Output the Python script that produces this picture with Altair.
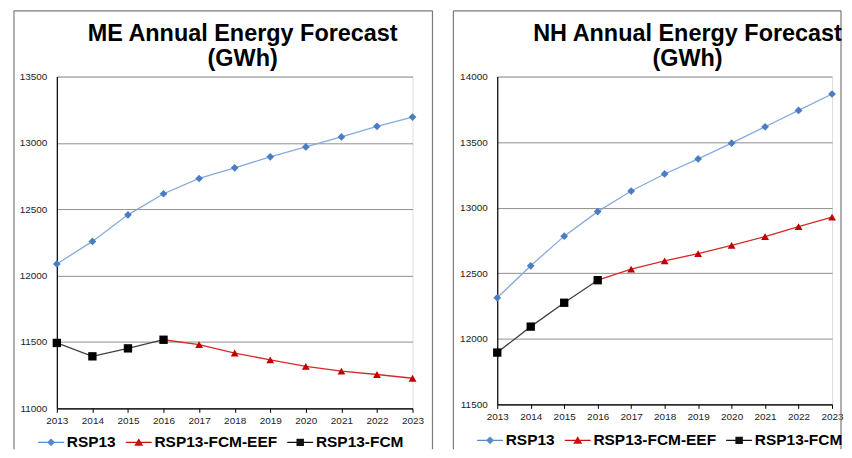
import altair as alt
import pandas as pd

years = [2013, 2014, 2015, 2016, 2017, 2018, 2019, 2020, 2021, 2022, 2023]
fcm_years = [2013, 2014, 2015, 2016]
eef_years = [2016, 2017, 2018, 2019, 2020, 2021, 2022, 2023]

series_names = ["RSP13", "RSP13-FCM-EEF", "RSP13-FCM"]

me_rsp13 = [12088, 12258, 12458, 12617, 12732, 12812, 12895, 12970, 13045, 13125, 13195]
me_fcm = [11493, 11392, 11452, 11517]
me_eef = [11517, 11480, 11417, 11365, 11317, 11280, 11255, 11227]

nh_rsp13 = [12313, 12557, 12783, 12970, 13127, 13257, 13372, 13492, 13617, 13742, 13867]
nh_fcm = [11895, 12093, 12275, 12447]
nh_eef = [12447, 12532, 12595, 12650, 12712, 12780, 12855, 12928]

me_ticks = [11000, 11500, 12000, 12500, 13000, 13500]
nh_ticks = [11500, 12000, 12500, 13000, 13500, 14000]

FONT = "Liberation Sans"
line_colors = ["#86AADD", "#D42A2A", "#404040"]
marker_colors = ["#4A7DC2", "#C00000", "#000000"]
legend_colors = ["#5A8AC8", "#C81010", "#111111"]
marker_shapes = ["diamond", "triangle-up", "square"]
marker_sizes = [60, 62, 70]

legend_paths = [
    "M-2.6,-0.13H2.6V0.13H-2.6Z M0,-0.8L0.8,0L0,0.8L-0.8,0Z",
    "M-2.6,-0.13H2.6V0.13H-2.6Z M0,-0.85L0.9,0.7L-0.9,0.7Z",
    "M-2.6,-0.13H2.6V0.13H-2.6Z M-0.75,-0.75H0.75V0.75H-0.75Z",
]


def build_df(rsp, fcm, eef):
    rows = []
    for y, v in zip(years, rsp):
        rows.append({"year": y, "value": v, "series": series_names[0]})
    for y, v in zip(eef_years, eef):
        rows.append({"year": y, "value": v, "series": series_names[1]})
    for y, v in zip(fcm_years, fcm):
        rows.append({"year": y, "value": v, "series": series_names[2]})
    return pd.DataFrame(rows)


def panel(rsp, fcm, eef, title, ydom, yticks, w, h, title_dx, leg_x, leg_y, frame):
    df = build_df(rsp, fcm, eef)
    x = alt.X("year:Q", scale=alt.Scale(domain=[2013, 2023], nice=False),
              axis=alt.Axis(values=years, format="d", title=None, grid=False,
                            ticks=True, tickSize=4, tickColor="#000", labelFontSize=10,
                            labelColor="#222", labelPadding=3, domainColor="#000",
                            domainWidth=1.2, labelFont=FONT, labelFlush=False))
    y = alt.Y("value:Q", scale=alt.Scale(domain=ydom, nice=False, zero=False),
              axis=alt.Axis(values=yticks, title=None, grid=True, gridColor="#8f8f8f",
                            gridWidth=1, ticks=False, labelFontSize=10, labelColor="#222",
                            labelPadding=10, domainColor="#000", domainWidth=1.2,
                            labelFont=FONT, format="d"))
    layers = []
    for i, s in enumerate(series_names):
        layers.append(
            alt.Chart(df).transform_filter(alt.datum.series == s).mark_line(
                strokeWidth=1.3, color=line_colors[i]).encode(x=x, y=y))
    for i, s in enumerate(series_names):
        layers.append(
            alt.Chart(df).transform_filter(alt.datum.series == s).mark_point(
                filled=True, shape=marker_shapes[i], size=marker_sizes[i],
                color=marker_colors[i], opacity=1, strokeWidth=0).encode(x=x, y=y))
    leg = alt.Legend(title=None, orient="none", legendX=leg_x, legendY=leg_y,
                     direction="horizontal", labelFont=FONT, labelFontSize=15.5,
                     labelFontWeight="bold", labelColor="#000", symbolSize=100,
                     symbolStrokeWidth=0, symbolOpacity=1, labelOffset=8,
                     columnPadding=9, padding=0)
    legend_layer = alt.Chart(df).transform_filter("false").mark_point(
        filled=True, opacity=1).encode(
        color=alt.Color("series:N", scale=alt.Scale(domain=series_names, range=legend_colors),
                        legend=leg),
        shape=alt.Shape("series:N", scale=alt.Scale(domain=series_names, range=legend_paths),
                        legend=leg))
    layers.append(legend_layer)
    fl, ft, fr, fb = frame
    fdata = alt.Data(values=[{"k": 1}])
    fcol = "#7a7a7a"
    layers.append(alt.Chart(fdata).mark_rule(color=fcol, strokeWidth=1.2).encode(
        x=alt.value(fl), y=alt.value(ft), y2=alt.value(fb)))
    layers.append(alt.Chart(fdata).mark_rule(color=fcol, strokeWidth=1.2).encode(
        x=alt.value(fl), x2=alt.value(fr), y=alt.value(ft)))
    if fr <= w + 40:
        layers.append(alt.Chart(fdata).mark_rule(color=fcol, strokeWidth=1.2).encode(
            x=alt.value(fr), y=alt.value(ft), y2=alt.value(fb)))
    return alt.layer(*layers).properties(
        width=w, height=h,
        title=alt.TitleParams(text=title, fontSize=23.5, font=FONT, fontWeight="bold",
                              color="#000", anchor="middle", frame="group", dx=title_dx,
                              dy=67, lineHeight=26, offset=6))


left = panel(me_rsp13, me_fcm, me_eef, ["ME Annual Energy Forecast", "(GWh)"],
             [11000, 13500], me_ticks, 357, 333, 8, -13.5, 359, (-43, -66, 377, 374))
right = panel(nh_rsp13, nh_fcm, nh_eef, ["NH Annual Energy Forecast", "(GWh)"],
              [11500, 14000], nh_ticks, 336, 329, 23, -15, 357, (-44, -66, 345, 374))

chart = alt.hconcat(left, right, spacing=17).resolve_scale(
    color="independent", shape="independent").properties(
    padding={"left": 4, "top": 0, "right": 0, "bottom": 0}
).configure_view(stroke="#333", strokeWidth=1).configure(background="white")

chart.save("out.html", embed_options={"renderer": "svg", "actions": False})
